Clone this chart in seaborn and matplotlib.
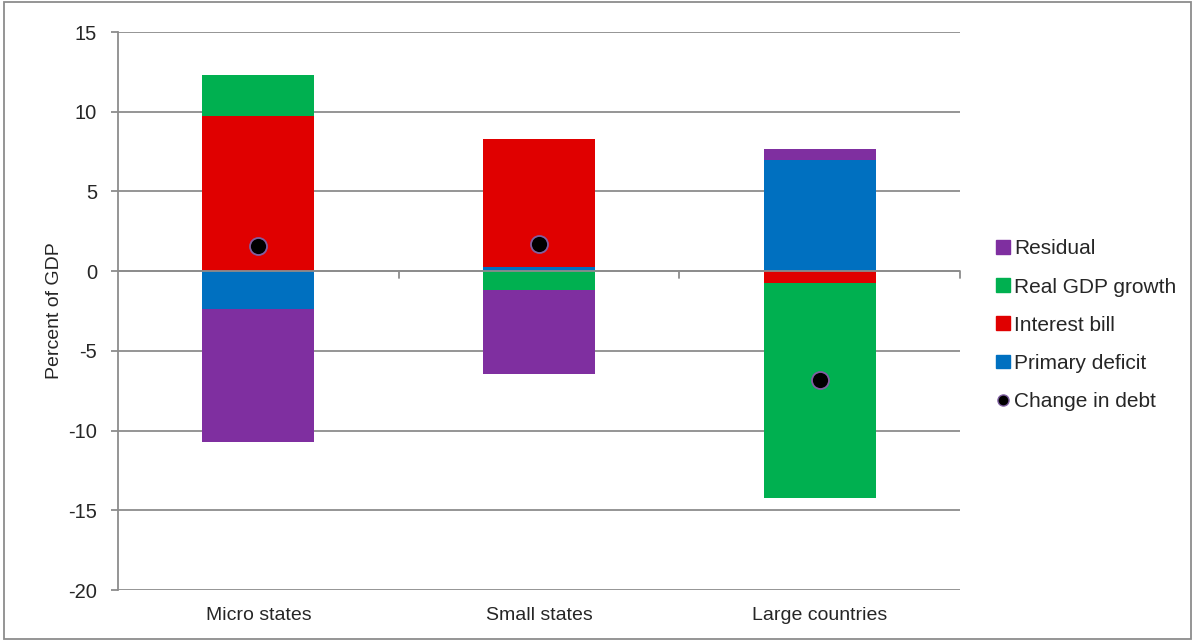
import matplotlib

matplotlib.use("Agg")
import matplotlib.pyplot as plt
import numpy as np
import pandas as pd
import seaborn as sns
from matplotlib.lines import Line2D
from matplotlib.patches import Patch, Rectangle

sns.set_theme(style="white")
plt.rcParams["font.family"] = ["Liberation Sans", "DejaVu Sans"]
plt.rcParams["axes.unicode_minus"] = False

categories = ["Micro states", "Small states", "Large countries"]
primary_deficit = [-2.4, 0.25, 6.96]
interest_bill = [9.74, 8.03, -0.73]
real_gdp_growth = [2.57, -1.19, -13.53]
residual = [-8.3, -5.25, 0.67]
change_in_debt = [1.6, 1.7, -6.8]

series = [
    ("Primary deficit", primary_deficit, "#0070c0"),
    ("Interest bill", interest_bill, "#e00000"),
    ("Real GDP growth", real_gdp_growth, "#00b050"),
    ("Residual", residual, "#7f2fa0"),
]

fig = plt.figure(figsize=(11.95, 6.41), dpi=100)
ax = fig.add_axes([118 / 1195, 1 - 590 / 641, (960 - 118) / 1195, (590 - 32) / 641])

# Excel-style stacking: positives and negatives build up separately
pos_base = np.zeros(len(categories))
neg_base = np.zeros(len(categories))
for name, vals, color in series:
    vals = np.asarray(vals, dtype=float)
    bottom = np.where(vals >= 0, pos_base, neg_base)
    sns.barplot(x=categories, y=vals, bottom=bottom, color=color, width=0.4,
                saturation=1, linewidth=0, ax=ax)
    pos_base = pos_base + np.where(vals >= 0, vals, 0)
    neg_base = neg_base + np.where(vals < 0, vals, 0)

df_dots = pd.DataFrame({"cat": categories, "val": change_in_debt})
sns.scatterplot(data=df_dots, x="cat", y="val", color="black", edgecolor="#7f5fa0",
                linewidth=1.3, s=150, zorder=5, ax=ax)

ax.set_ylim(-20, 15)
ax.set_xlim(-0.5, 2.5)
ax.set_yticks(np.arange(-20, 16, 5))
ax.yaxis.grid(True, color="#8c8c8c", linewidth=1.3)
ax.set_axisbelow(True)
for s in ["top", "right", "bottom"]:
    ax.spines[s].set_visible(False)
ax.spines["left"].set_color("#8c8c8c")
ax.spines["left"].set_linewidth(1.3)
ax.tick_params(axis="y", left=True, length=5, width=1.3, color="#8c8c8c",
               labelsize=14.5, pad=10)
ax.tick_params(axis="x", bottom=False, labelsize=14, pad=6)

# category axis crosses at zero with tick marks between categories
ax.axhline(0, color="#8c8c8c", linewidth=1.3, zorder=3)
for xb in [0.5, 1.5, 2.5]:
    ax.plot([xb, xb], [0, -0.45], color="#8c8c8c", linewidth=1.3, zorder=3,
            clip_on=False)

ax.set_xlabel("")
ax.set_ylabel("Percent of GDP", fontsize=14, labelpad=4)

handles = [
    Patch(color="#7f2fa0", label="Residual"),
    Patch(color="#00b050", label="Real GDP growth"),
    Patch(color="#e00000", label="Interest bill"),
    Patch(color="#0070c0", label="Primary deficit"),
    Line2D([], [], marker="o", linestyle="", markerfacecolor="black",
           markeredgecolor="#7f5fa0", markersize=8, label="Change in debt"),
]
fig.legend(handles=handles, loc="upper left", bbox_to_anchor=(988 / 1195, 1 - 231 / 641),
           frameon=False, fontsize=15, handlelength=0.65, handleheight=0.65,
           handletextpad=0.2, labelspacing=0.92, borderaxespad=0)

fig.patches.append(Rectangle((0.003, 0.003), 0.994, 0.994, transform=fig.transFigure,
                             fill=False, edgecolor="#8c8c8c", linewidth=1.3))

fig.savefig("out.png", dpi=100)
